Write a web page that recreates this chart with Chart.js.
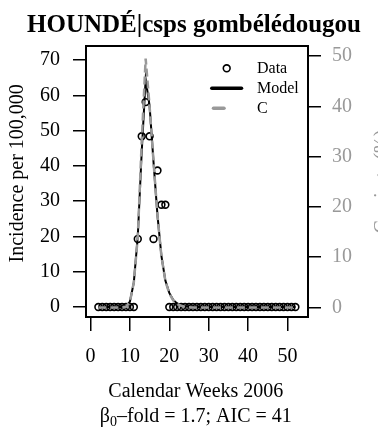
<!DOCTYPE html>
<html>
<head>
<meta charset="utf-8">
<script src="https://cdn.jsdelivr.net/npm/chart.js@4.4.0/dist/chart.umd.min.js"></script>
<style>
  html, body { margin: 0; padding: 0; background: #fff; }
  #wrap { width: 378px; height: 432px; }
</style>
</head>
<body>
<div id="wrap"><canvas id="chart"></canvas></div>
<script>
// calendar weeks 2006
const weeks = [2, 3, 4, 5, 6, 7, 8, 9, 10, 11, 12, 13, 14, 15, 16, 17, 18, 19, 20, 21,
               22, 23, 24, 25, 26, 27, 28, 29, 30, 31, 32, 33, 34, 35, 36, 37, 38, 39, 40, 41,
               42, 43, 44, 45, 46, 47, 48, 49, 50, 51, 52];

// observed incidence per 100,000
const incidence = [0, 0, 0, 0, 0, 0, 0, 0, 0, 0, 19.3, 48.4, 58.1, 48.4, 19.3, 38.7, 29, 29, 0, 0,
                   0, 0, 0, 0, 0, 0, 0, 0, 0, 0, 0, 0, 0, 0, 0, 0, 0, 0, 0, 0,
                   0, 0, 0, 0, 0, 0, 0, 0, 0, 0, 0];

// model incidence per 100,000
const model = [0, 0, 0, 0, 0, 0, 0, 0.2, 1.5, 7, 20, 44, 64.5, 57, 41, 26, 14.5, 7.5, 4, 2,
               1, 0.5, 0.2, 0.1, 0, 0, 0, 0, 0, 0, 0, 0, 0, 0, 0, 0, 0, 0, 0, 0,
               0, 0, 0, 0, 0, 0, 0, 0, 0, 0, 0];

// carriage (%), right axis
const carriage = [0, 0, 0, 0, 0, 0, 0, 0.15, 1.1, 5, 14, 33, 49.5, 40, 29, 18.3, 10.2, 5.3, 2.8, 1.4,
                  0.7, 0.35, 0.15, 0.07, 0, 0, 0, 0, 0, 0, 0, 0, 0, 0, 0, 0, 0, 0, 0, 0,
                  0, 0, 0, 0, 0, 0, 0, 0, 0, 0, 0];

const xTicks  = [0, 10, 20, 30, 40, 50];
const yTicks  = [0, 10, 20, 30, 40, 50, 60, 70];
const y2Ticks = [0, 10, 20, 30, 40, 50];

const SERIF = "'Liberation Serif', 'Times New Roman', serif";
const GREY  = '#999999';

const pts = (ys) => weeks.map((w, i) => ({ x: w, y: ys[i] }));

// box, axis titles and legend
const decor = {
    id: 'decor',
    afterDraw(chart) {
        const { ctx, chartArea: a } = chart;
        ctx.save();

        ctx.strokeStyle = '#000';
        ctx.lineWidth = 2;
        ctx.strokeRect(a.left, a.top, a.right - a.left, a.bottom - a.top);

        ctx.fillStyle = '#000';
        ctx.textAlign = 'center';
        ctx.textBaseline = 'alphabetic';
        ctx.font = `bold 25px ${SERIF}`;
        ctx.fillText('HOUNDÉ|csps gombélédougou', 194, 31.7);

        ctx.font = `20px ${SERIF}`;
        ctx.fillText('Calendar Weeks 2006', 195.8, 397);

        // beta_0 line with subscript
        const p1 = 'β', p3 = '–fold = 1.7; AIC = 41';
        const w1 = ctx.measureText(p1).width;
        const w3 = ctx.measureText(p3).width;
        ctx.font = `14px ${SERIF}`;
        const w2 = ctx.measureText('0').width;
        let x0 = 195.8 - (w1 + w2 + w3) / 2;
        ctx.textAlign = 'left';
        ctx.font = `20px ${SERIF}`;
        ctx.fillText(p1, x0, 421.7);
        ctx.font = `14px ${SERIF}`;
        ctx.fillText('0', x0 + w1, 426);
        ctx.font = `20px ${SERIF}`;
        ctx.fillText(p3, x0 + w1 + w2, 421.7);

        ctx.textAlign = 'center';
        ctx.save();
        ctx.translate(23.3, 173.3);
        ctx.rotate(-Math.PI / 2);
        ctx.fillText('Incidence per 100,000', 0, 0);
        ctx.restore();

        ctx.save();
        ctx.fillStyle = GREY;
        ctx.translate(388, 181.5);
        ctx.rotate(-Math.PI / 2);
        ctx.fillText('Carriage (%)', 0, 0);
        ctx.restore();

        // legend
        ctx.beginPath();
        ctx.lineWidth = 1.6;
        ctx.strokeStyle = '#000';
        ctx.arc(226.7, 68.3, 3.4, 0, Math.PI * 2);
        ctx.stroke();

        ctx.lineCap = 'round';
        ctx.lineWidth = 3.5;
        ctx.beginPath();
        ctx.moveTo(211.8, 88.3);
        ctx.lineTo(241.5, 88.3);
        ctx.stroke();

        ctx.strokeStyle = GREY;
        ctx.beginPath();
        ctx.moveTo(213.5, 108.3);
        ctx.lineTo(224, 108.3);
        ctx.stroke();

        ctx.fillStyle = '#000';
        ctx.textAlign = 'left';
        ctx.textBaseline = 'middle';
        ctx.font = `16px ${SERIF}`;
        ctx.fillText('Data', 257, 68.3);
        ctx.fillText('Model', 257, 88.3);
        ctx.fillText('C', 257, 108.3);

        ctx.restore();
    },
};

new Chart(document.getElementById('chart'), {
    type: 'line',
    data: {
        datasets: [
            {
                type: 'scatter',
                label: 'Data',
                data: pts(incidence),
                showLine: false,
                pointStyle: 'circle',
                pointRadius: 3.4,
                pointBorderWidth: 1.6,
                pointBorderColor: '#000',
                pointBackgroundColor: 'rgba(0,0,0,0)',
                yAxisID: 'y',
                order: 2,
            },
            {
                label: 'Model',
                data: pts(model),
                borderColor: '#000',
                borderWidth: 2,
                pointRadius: 0,
                tension: 0,
                fill: false,
                yAxisID: 'y',
                order: 1,
            },
            {
                label: 'C',
                data: pts(carriage),
                borderColor: GREY,
                borderWidth: 2.5,
                borderDash: [8, 4],
                pointRadius: 0,
                tension: 0,
                fill: false,
                yAxisID: 'y2',
                order: 0,
            },
        ],
    },
    options: {
        responsive: true,
        maintainAspectRatio: false,
        animation: false,
        devicePixelRatio: 1,
        layout: { padding: { top: 46, left: 0, right: 0, bottom: 0 } },
        plugins: {
            legend: { display: false },
            tooltip: { enabled: false },
            title: { display: false },
        },
        scales: {
            x: {
                type: 'linear',
                min: -1.14, max: 55.2,
                afterBuildTicks: (s) => { s.ticks = xTicks.map(v => ({ value: v })); },
                afterFit: (s) => { s.height = 115; },
                border: { display: false },
                grid: { drawOnChartArea: false, drawTicks: true, tickLength: 14, color: '#000', lineWidth: 1.5 },
                ticks: { color: '#000', font: { family: SERIF, size: 20 }, padding: 14, maxRotation: 0, autoSkip: false },
            },
            y: {
                position: 'left',
                min: -2.83, max: 74,
                afterBuildTicks: (s) => { s.ticks = yTicks.map(v => ({ value: v })); },
                afterFit: (s) => { s.width = 86; },
                border: { display: false },
                grid: { drawOnChartArea: false, drawTicks: true, tickLength: 13, color: '#000', lineWidth: 1.5 },
                ticks: { color: '#000', font: { family: SERIF, size: 20 }, padding: 13 },
            },
            y2: {
                position: 'right',
                min: -1.89, max: 52,
                afterBuildTicks: (s) => { s.ticks = y2Ticks.map(v => ({ value: v })); },
                afterFit: (s) => { s.width = 70; },
                border: { display: false },
                grid: { drawOnChartArea: false, drawTicks: true, tickLength: 13, color: '#000', lineWidth: 1.5 },
                ticks: { color: GREY, font: { family: SERIF, size: 20 }, padding: 11 },
            },
        },
    },
    plugins: [decor],
});
</script>
</body>
</html>
